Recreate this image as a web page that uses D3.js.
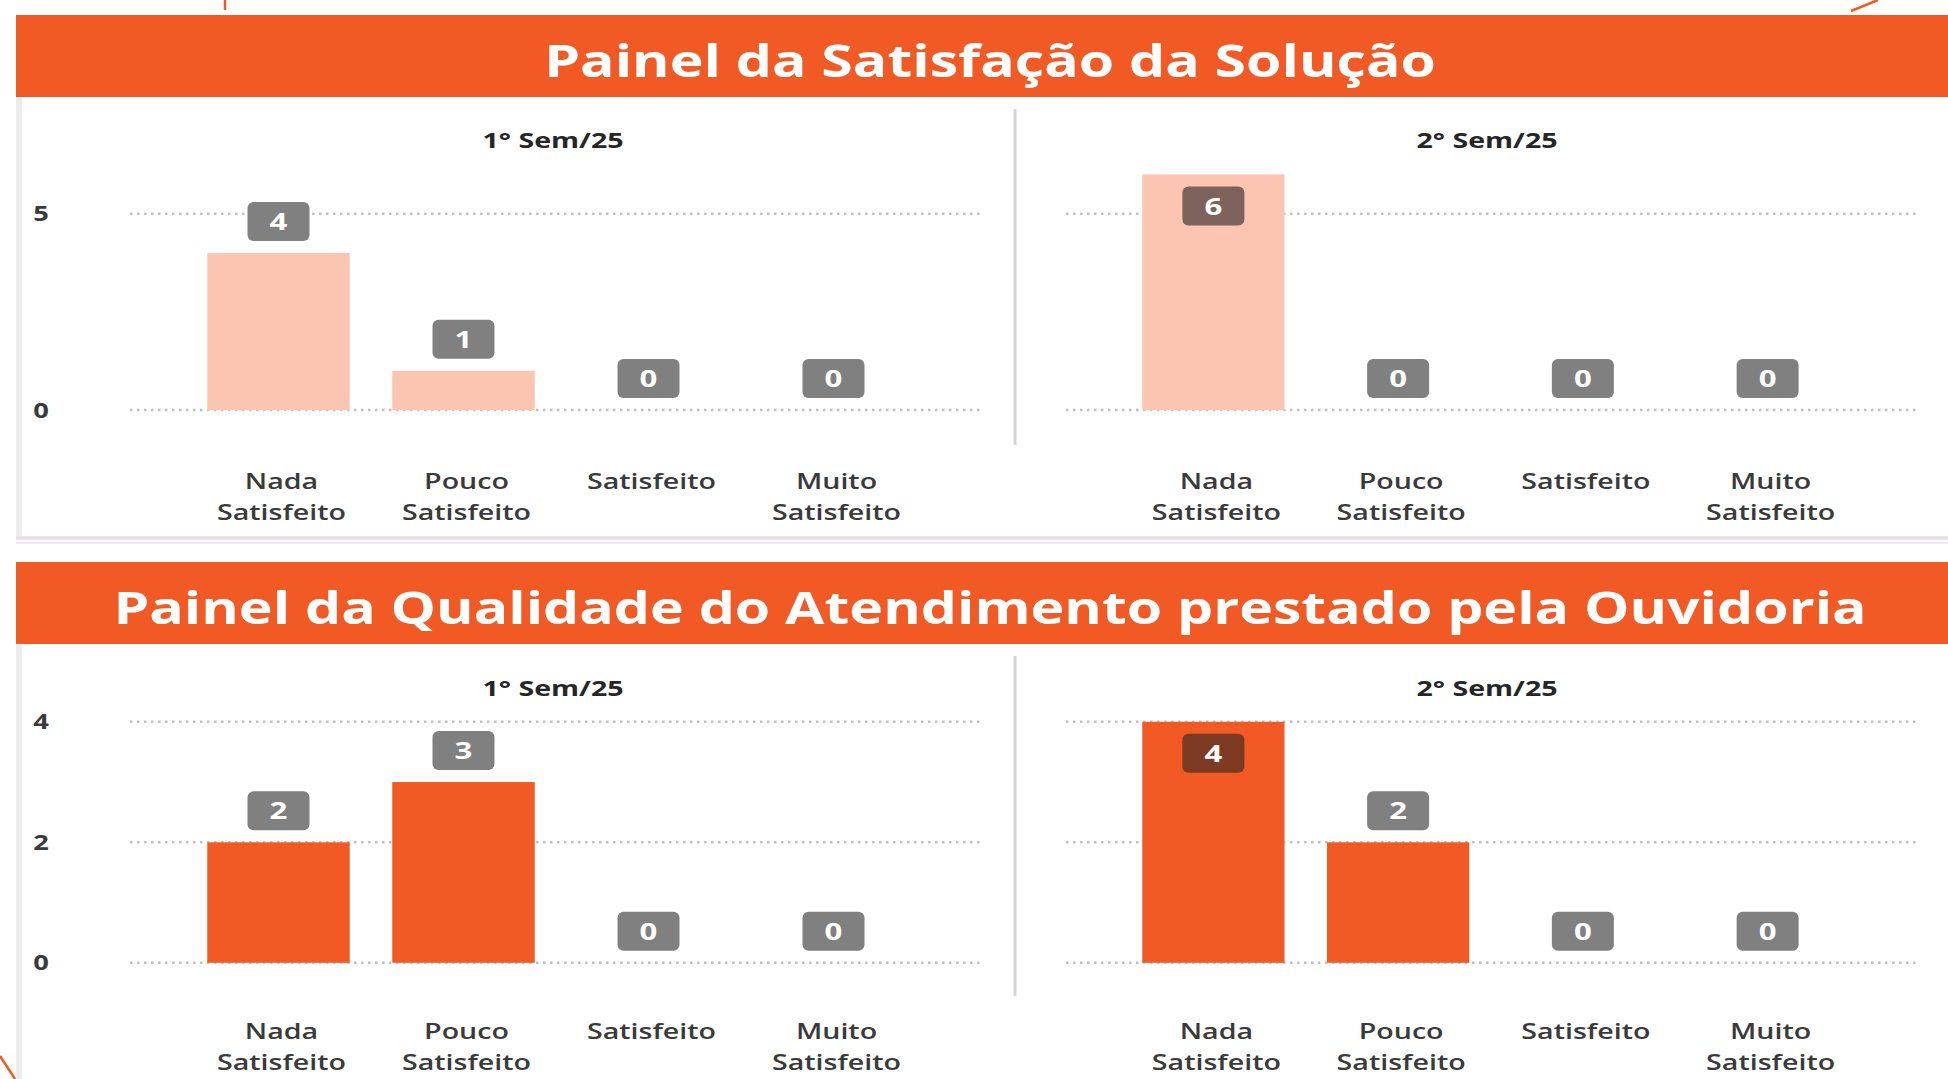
<!DOCTYPE html>
<html lang="pt">
<head>
  <meta charset="UTF-8">
  <title>Painéis de Satisfação</title>
  <style>
    body {
      margin: 0;
      padding: 0;
      background-color: #ffffff;
      font-family: "Open Sans", "Noto Sans", Arial, sans-serif;
    }
    svg { display: block; }
    .grid line { stroke: #c0c0c0; stroke-width: 2.5; stroke-dasharray: 2.5 4.5; }
    .tick-label { fill: #3a3a3a; font-weight: 700; font-size: 21px; }
    .cat-label { fill: #3a3a3a; font-weight: 600; font-size: 22px; }
    .sub-title { fill: #262626; font-weight: 700; font-size: 22px; }
    .panel-title { fill: #ffffff; font-weight: 700; }
    .val-text { fill: #ffffff; font-weight: 700; font-size: 24px; }
  </style>
</head>
<body>
  <div id="chart"></div>

  <script src="https://d3js.org/d3.v7.min.js"></script>
  <script>
    // data
    const categories = ["Nada Satisfeito", "Pouco Satisfeito", "Satisfeito", "Muito Satisfeito"];
    const periods = ["1° Sem/25", "2° Sem/25"];
    const panelTitles = [
      "Painel da Satisfação da Solução",
      "Painel da Qualidade do Atendimento prestado pela Ouvidoria"
    ];
    const solucao1 = [4, 1, 0, 0];
    const solucao2 = [6, 0, 0, 0];
    const atendimento1 = [2, 3, 0, 0];
    const atendimento2 = [4, 2, 0, 0];
    const solucaoTicks = [0, 5];
    const atendimentoTicks = [0, 2, 4];

    const W = 1948, H = 1079;
    const orange = "#f15a24";
    const stretch = 1.3; // the source screenshot is stretched sideways

    const svg = d3.select("#chart").append("svg")
      .attr("width", W)
      .attr("height", H);

    // positions text at (x,y) with the sideways stretch
    function place(sel, x, y) {
      return sel.attr("transform", `translate(${x},${y}) scale(${stretch},1)`);
    }

    // layout of the two panels (positions only)
    const panels = [
      {
        title: panelTitles[0], titleSize: 44,
        series: [solucao1, solucao2], ticks: solucaoTicks, yMax: 5,
        color: "#fcc5b1", insideBox: "#7c625a",
        headerY: 15, headerH: 82, bodyBottom: 536,
        subY: 148, y0: 410, yTop: 213.7,
        labY: 481, divY: [109, 445]
      },
      {
        title: panelTitles[1], titleSize: 44,
        series: [atendimento1, atendimento2], ticks: atendimentoTicks, yMax: 4,
        color: orange, insideBox: "#7c3a22",
        headerY: 562, headerH: 82, bodyBottom: 1079,
        subY: 696, y0: 962.8, yTop: 721.8,
        labY: 1031, divY: [656, 996]
      }
    ];

    const halves = [
      { bandRange: [186, 926], gridRange: [130, 984], axis: true },
      { bandRange: [1121, 1860], gridRange: [1066, 1916], axis: false }
    ];

    panels.forEach(p => {
      const g = svg.append("g");

      // panel body + soft borders
      g.append("rect")
        .attr("x", 16).attr("y", p.headerY + p.headerH)
        .attr("width", W - 16).attr("height", p.bodyBottom - p.headerY - p.headerH)
        .attr("fill", "#ffffff");
      g.append("rect")
        .attr("x", 16).attr("y", p.headerY + p.headerH)
        .attr("width", 6).attr("height", p.bodyBottom - p.headerY - p.headerH)
        .attr("fill", "#ececec");
      if (p.bodyBottom < H) {
        g.append("rect")
          .attr("x", 16).attr("y", p.bodyBottom)
          .attr("width", W - 16).attr("height", 4)
          .attr("fill", "#e3e3e3");
        g.append("rect")
          .attr("x", 16).attr("y", p.bodyBottom + 6)
          .attr("width", W - 16).attr("height", 2)
          .attr("fill", "#f1e9f5");
      }

      // orange header
      g.append("rect")
        .attr("x", 16).attr("y", p.headerY)
        .attr("width", W - 16).attr("height", p.headerH)
        .attr("fill", orange);
      place(g.append("text"), 990, p.headerY + p.headerH / 2 + 5)
        .attr("class", "panel-title")
        .attr("dy", "0.36em")
        .attr("text-anchor", "middle")
        .style("font-size", p.titleSize + "px")
        .text(p.title);

      // divider between the two semesters
      g.append("line")
        .attr("x1", 1015).attr("x2", 1015)
        .attr("y1", p.divY[0]).attr("y2", p.divY[1])
        .attr("stroke", "#d4d4d4").attr("stroke-width", 3);

      const y = d3.scaleLinear().domain([0, p.yMax]).range([p.y0, p.yTop]);
      const panelMax = d3.max(p.series.flat());

      halves.forEach((h, i) => {
        const values = p.series[i];
        const x = d3.scaleBand().domain(categories).range(h.bandRange).paddingInner(0.23).paddingOuter(0.115);
        const hg = g.append("g");

        place(hg.append("text"), (h.gridRange[0] + h.gridRange[1]) / 2 - 4, p.subY)
          .attr("class", "sub-title")
          .attr("text-anchor", "middle")
          .text(periods[i]);

        // dotted gridlines
        hg.append("g").attr("class", "grid")
          .selectAll("line")
          .data(p.ticks)
          .join("line")
          .attr("x1", h.gridRange[0]).attr("x2", h.gridRange[1])
          .attr("y1", d => y(d)).attr("y2", d => y(d));

        if (h.axis) {
          hg.selectAll(".tick-label")
            .data(p.ticks)
            .join("text")
            .attr("class", "tick-label")
            .attr("transform", d => `translate(41,${y(d)}) scale(${stretch},1)`)
            .attr("dy", "0.36em")
            .attr("text-anchor", "middle")
            .text(d => d);
        }

        // bars
        hg.selectAll("rect.bar")
          .data(values)
          .join("rect")
          .attr("class", "bar")
          .attr("x", (d, j) => x(categories[j]))
          .attr("width", x.bandwidth())
          .attr("y", d => y(d))
          .attr("height", d => p.y0 - y(d))
          .attr("fill", p.color);

        // value boxes
        const bw = 62, bh = 39, gap = 12;
        const lab = hg.selectAll("g.val")
          .data(values)
          .join("g")
          .attr("class", "val")
          .attr("transform", (d, j) => {
            const cx = x(categories[j]) + x.bandwidth() / 2;
            const top = d === panelMax ? y(d) + gap : y(d) - gap - bh;
            return `translate(${cx},${top})`;
          });
        lab.append("rect")
          .attr("x", -bw / 2).attr("width", bw)
          .attr("height", bh).attr("rx", 6)
          .attr("fill", d => d === panelMax ? p.insideBox : "#808080");
        lab.append("text")
          .attr("class", "val-text")
          .attr("transform", `translate(0,${bh / 2}) scale(${stretch},1)`)
          .attr("dy", "0.36em")
          .attr("text-anchor", "middle")
          .text(d => d);

        // category labels on two lines
        const cl = hg.selectAll("text.cat-label")
          .data(categories)
          .join("text")
          .attr("class", "cat-label")
          .attr("text-anchor", "middle")
          .attr("transform", d => `translate(${x(d) + x.bandwidth() / 2 + 3},${p.labY}) scale(${stretch},1)`);
        cl.each(function(d) {
          const words = d.split(" ");
          const t = d3.select(this);
          words.forEach((w, k) => {
            t.append("tspan")
              .attr("x", 0)
              .attr("y", k * 31)
              .attr("dy", "0.36em")
              .text(w);
          });
        });
      });
    });

    // small orange strokes left over from the slide frame
    svg.append("g")
      .attr("stroke", orange).attr("stroke-width", 2.5).attr("fill", "none")
      .selectAll("line")
      .data([[225, 0, 225, 10], [1851, 11, 1878, 0], [0, 1056, 15, 1079]])
      .join("line")
      .attr("x1", d => d[0]).attr("y1", d => d[1])
      .attr("x2", d => d[2]).attr("y2", d => d[3]);
  </script>
</body>
</html>
